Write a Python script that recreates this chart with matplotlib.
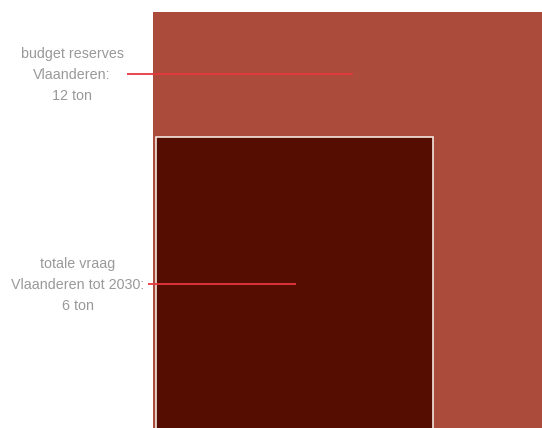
import matplotlib
matplotlib.use("Agg")
import matplotlib.pyplot as plt
from matplotlib.patches import Rectangle
import numpy as np

labels = ["budget reserves\nVlaanderen:\n12 ton", "totale vraag\nVlaanderen tot 2030:\n6 ton"]
values = [12, 6]
colors = ["#aa4b3b", "#550d02"]
edgecolors = ["none", "#f4e6e2"]

fig = plt.figure(figsize=(5.42, 4.28), dpi=100)
ax = fig.add_axes([0, 0, 1, 1])
ax.set_xlim(-1.353, 3.439)
ax.set_ylim(0.174, 3.557)
ax.axis("off")

pad = 0.0265
sides = [np.sqrt(v) for v in values]
offsets = [0.0, pad]
for side, off, c, ec in zip(sides, offsets, colors, edgecolors):
    ax.add_patch(Rectangle((off, off), side, side, facecolor=c, edgecolor=ec, linewidth=1.2))

# label positions (data coords)
label_y = [2.972, 1.312]
text_x = [-0.715, -0.663]
line_start = [-0.23, -0.044]
line_end = [1.77, 1.265]
for lab, ly, tx, ls, le in zip(labels, label_y, text_x, line_start, line_end):
    ax.plot([ls, le], [ly, ly], color="#e8363c", linewidth=1.3, solid_capstyle="butt")
    ax.text(tx, ly - 0.006, lab, ha="center", va="center", color="#999999",
            fontsize=10.3, family="Liberation Sans", linespacing=1.66)

fig.savefig("out.png", dpi=100)
